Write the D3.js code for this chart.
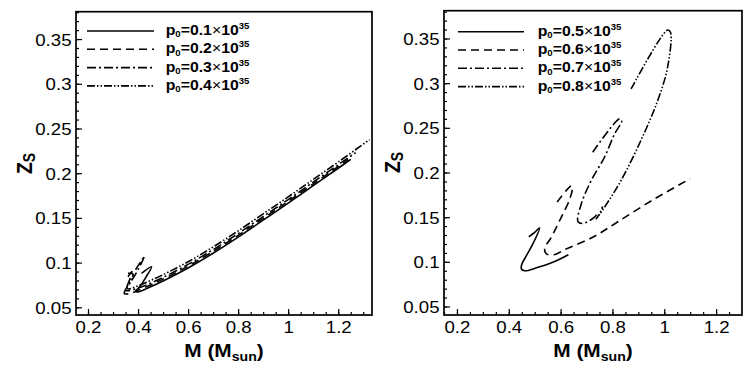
<!DOCTYPE html>
<html>
<head>
<meta charset="utf-8">
<script src="https://cdn.jsdelivr.net/npm/d3@7"></script>
<style>
  body { margin: 0; background: #fff; }
  text { font-family: "Liberation Sans", Arial, sans-serif; }
</style>
</head>
<body>
<div id="chart"></div>
<script>
// ---- data (M in solar masses, Z_S) ----
const xTicks = [0.2, 0.4, 0.6, 0.8, 1, 1.2]
const yTicks = [0.05, 0.1, 0.15, 0.2, 0.25, 0.3, 0.35]
const leftLabels = ['0.1', '0.2', '0.3', '0.4']
const rightLabels = ['0.5', '0.6', '0.7', '0.8']

const curveP01 = [[0.414,0.088],[0.454,0.0955],[0.43,0.083],[0.405,0.0725],[0.39,0.068],[0.40,0.0672],[0.45,0.073],[0.5,0.0795],[0.6,0.094],[0.7,0.1105],[0.8,0.1285],[0.9,0.1475],[1.0,0.1665],[1.1,0.186],[1.2,0.2055],[1.25,0.2155]]
const curveP02 = [[0.36,0.084],[0.375,0.09],[0.365,0.08],[0.35,0.07],[0.345,0.0655],[0.36,0.065],[0.38,0.0665],[0.40,0.069],[0.45,0.075],[0.5,0.0815],[0.6,0.096],[0.7,0.1125],[0.8,0.1305],[0.9,0.1495],[1.0,0.1685],[1.1,0.188],[1.2,0.2075],[1.24,0.2155]]
const curveP03 = [[0.39,0.092],[0.425,0.107],[0.40,0.092],[0.37,0.078],[0.35,0.069],[0.36,0.0685],[0.40,0.0715],[0.45,0.077],[0.5,0.0835],[0.6,0.098],[0.7,0.1145],[0.8,0.1325],[0.9,0.1515],[1.0,0.1705],[1.1,0.19],[1.2,0.2095],[1.27,0.223]]
const curveP04 = [[0.36,0.088],[0.38,0.087],[0.37,0.08],[0.355,0.072],[0.36,0.0705],[0.40,0.074],[0.45,0.080],[0.5,0.0865],[0.6,0.101],[0.7,0.1175],[0.8,0.1355],[0.9,0.1545],[1.0,0.1735],[1.1,0.193],[1.2,0.2125],[1.325,0.2375]]

const curveP05 = [[0.477,0.128],[0.50,0.133],[0.519,0.138],[0.493,0.120],[0.468,0.107],[0.450,0.097],[0.449,0.092],[0.462,0.0900],[0.507,0.0933],[0.57,0.0995],[0.63,0.108]]
const curveP06 = [[0.587,0.167],[0.641,0.185],[0.645,0.182],[0.635,0.170],[0.596,0.146],[0.564,0.1275],[0.538,0.1145],[0.545,0.109],[0.575,0.108],[0.622,0.1145],[0.724,0.1275],[0.827,0.146],[0.96,0.17],[1.1,0.193]]
const curveP07 = [[0.724,0.2226],[0.827,0.26],[0.836,0.258],[0.808,0.243],[0.769,0.217],[0.718,0.191],[0.680,0.165],[0.667,0.145],[0.686,0.143],[0.731,0.150],[0.741,0.154]]
const curveP08 = [[0.872,0.2935],[1.013,0.3595],[1.024,0.357],[1.013,0.318],[0.974,0.280],[0.910,0.236],[0.833,0.191],[0.769,0.161],[0.737,0.148],[0.748,0.152],[0.762,0.162]]

const dashes = [null, '8,5', '9,3,2,3', '8,2,1.5,2,1.5,2']
const stretch = 1.13   // reference glyphs are a little wider than tall

const svg = d3.select('#chart').append('svg')
    .attr('width', 747)
    .attr('height', 379)
    .style('background', '#fff')

function stretchedText(parent, x, y, anchor, size, weight) {
    return parent.append('g')
        .attr('transform', `translate(${x},${y}) scale(${stretch},1)`)
        .append('text')
        .attr('text-anchor', anchor)
        .attr('font-size', size)
        .attr('font-weight', weight)
        .attr('fill', '#000')
}

function drawPanel(cfg) {
    const x = d3.scaleLinear().domain(cfg.xDom).range([cfg.x0, cfg.x1])
    const y = d3.scaleLinear().domain(cfg.yDom).range([cfg.y1, cfg.y0])
    const g = svg.append('g')

    const clipId = 'clip' + cfg.id
    g.append('clipPath').attr('id', clipId)
        .append('rect')
        .attr('x', cfg.x0).attr('y', cfg.y0)
        .attr('width', cfg.x1 - cfg.x0).attr('height', cfg.y1 - cfg.y0)

    // minor ticks
    const minorX = d3.range(0.15, cfg.xDom[1], 0.05).filter(v => v >= cfg.xDom[0])
    const minorY = d3.range(0.05, cfg.yDom[1], 0.01)
    g.append('g')
        .attr('transform', `translate(0,${cfg.y1})`)
        .call(d3.axisBottom(x).tickValues(minorX).tickSize(-3).tickSizeOuter(0).tickFormat(''))
    g.append('g')
        .attr('transform', `translate(${cfg.x0},0)`)
        .call(d3.axisLeft(y).tickValues(minorY).tickSize(-3).tickSizeOuter(0).tickFormat(''))

    // major ticks
    const xAxis = g.append('g')
        .attr('transform', `translate(0,${cfg.y1})`)
        .call(d3.axisBottom(x).tickValues(xTicks).tickSize(-6).tickSizeOuter(0).tickFormat(d3.format('')))
    const yAxis = g.append('g')
        .attr('transform', `translate(${cfg.x0},0)`)
        .call(d3.axisLeft(y).tickValues(yTicks).tickSize(-6).tickSizeOuter(0).tickFormat(d3.format('')))

    g.selectAll('.domain').remove()
    g.selectAll('.tick line').attr('stroke', '#000').attr('stroke-width', 1.2)

    xAxis.selectAll('text')
        .attr('y', 18).attr('dy', null)
        .attr('font-size', 16.5).attr('font-family', '"Liberation Sans", Arial, sans-serif')
        .attr('fill', '#000')
        .attr('transform', `scale(${stretch},1)`)
    yAxis.selectAll('text')
        .attr('x', -4.5 / stretch).attr('dy', '0.36em')
        .attr('font-size', 16.5).attr('font-family', '"Liberation Sans", Arial, sans-serif')
        .attr('fill', '#000')
        .attr('transform', `scale(${stretch},1)`)

    // frame
    g.append('rect')
        .attr('x', cfg.x0).attr('y', cfg.y0)
        .attr('width', cfg.x1 - cfg.x0).attr('height', cfg.y1 - cfg.y0)
        .attr('fill', 'none').attr('stroke', '#000').attr('stroke-width', 1.7)

    // curves
    const line = d3.line()
        .x(d => x(d[0]))
        .y(d => y(d[1]))
        .curve(d3.curveCatmullRom.alpha(0.5))
    g.append('g').attr('clip-path', `url(#${clipId})`)
        .selectAll('path.curve')
        .data(cfg.curves)
        .join('path')
        .attr('class', 'curve')
        .attr('d', d => line(d))
        .attr('fill', 'none')
        .attr('stroke', '#000')
        .attr('stroke-width', 1.6)
        .attr('stroke-dasharray', (d, i) => dashes[i])

    // legend
    const legend = g.selectAll('g.legend')
        .data(cfg.labels)
        .join('g')
        .attr('class', 'legend')
        .attr('transform', (d, i) => `translate(0,${cfg.legY + i * 18.3})`)
    legend.append('line')
        .attr('x1', cfg.legX0).attr('x2', cfg.legX1)
        .attr('stroke', '#000').attr('stroke-width', 1.6)
        .attr('stroke-dasharray', (d, i) => dashes[i])
    legend.each(function (d) {
        const t = stretchedText(d3.select(this), cfg.legText, 4, 'start', 14, 'bold')
        t.append('tspan').text('p')
        t.append('tspan').attr('font-size', 8.5).attr('dy', 2.4).text('0')
        t.append('tspan').attr('dy', -2.4).text('=' + d)
        t.append('tspan').attr('font-weight', 'normal').text('\u00d7')
        t.append('tspan').text('10')
        t.append('tspan').attr('font-size', 8.5).attr('dy', -6).text('35')
    })

    // axis titles
    const xt = stretchedText(g, (cfg.x0 + cfg.x1) / 2, 357, 'middle', 18.5, 'bold')
    xt.append('tspan').text('M (M')
    xt.append('tspan').attr('font-size', 12.5).attr('dy', 4).text('sun')
    xt.append('tspan').attr('dy', -4).text(')')

    const yt = g.append('g')
        .attr('transform', `translate(${cfg.zX},${cfg.zY}) scale(${stretch},1) rotate(-90)`)
        .append('text')
        .attr('text-anchor', 'middle')
        .attr('font-size', 19.5)
        .attr('font-weight', 'bold')
    yt.append('tspan').text('Z')
    yt.append('tspan').attr('font-size', 14).attr('dy', 3).text('S')
}

drawPanel({
    id: 'L', x0: 76, x1: 372, y0: 11.7, y1: 315,
    xDom: [0.152, 1.335], yDom: [0.0414, 0.3806],
    curves: [curveP01, curveP02, curveP03, curveP04],
    labels: leftLabels,
    legX0: 87, legX1: 154, legText: 165.7, legY: 31,
    zX: 31.5, zY: 163.5
})
drawPanel({
    id: 'R', x0: 444, x1: 742, y0: 10.7, y1: 315,
    xDom: [0.15, 1.3], yDom: [0.0405, 0.3811],
    curves: [curveP05, curveP06, curveP07, curveP08],
    labels: rightLabels,
    legX0: 458, legX1: 524, legText: 537.7, legY: 31.7,
    zX: 399.5, zY: 162.5
})
</script>
</body>
</html>
